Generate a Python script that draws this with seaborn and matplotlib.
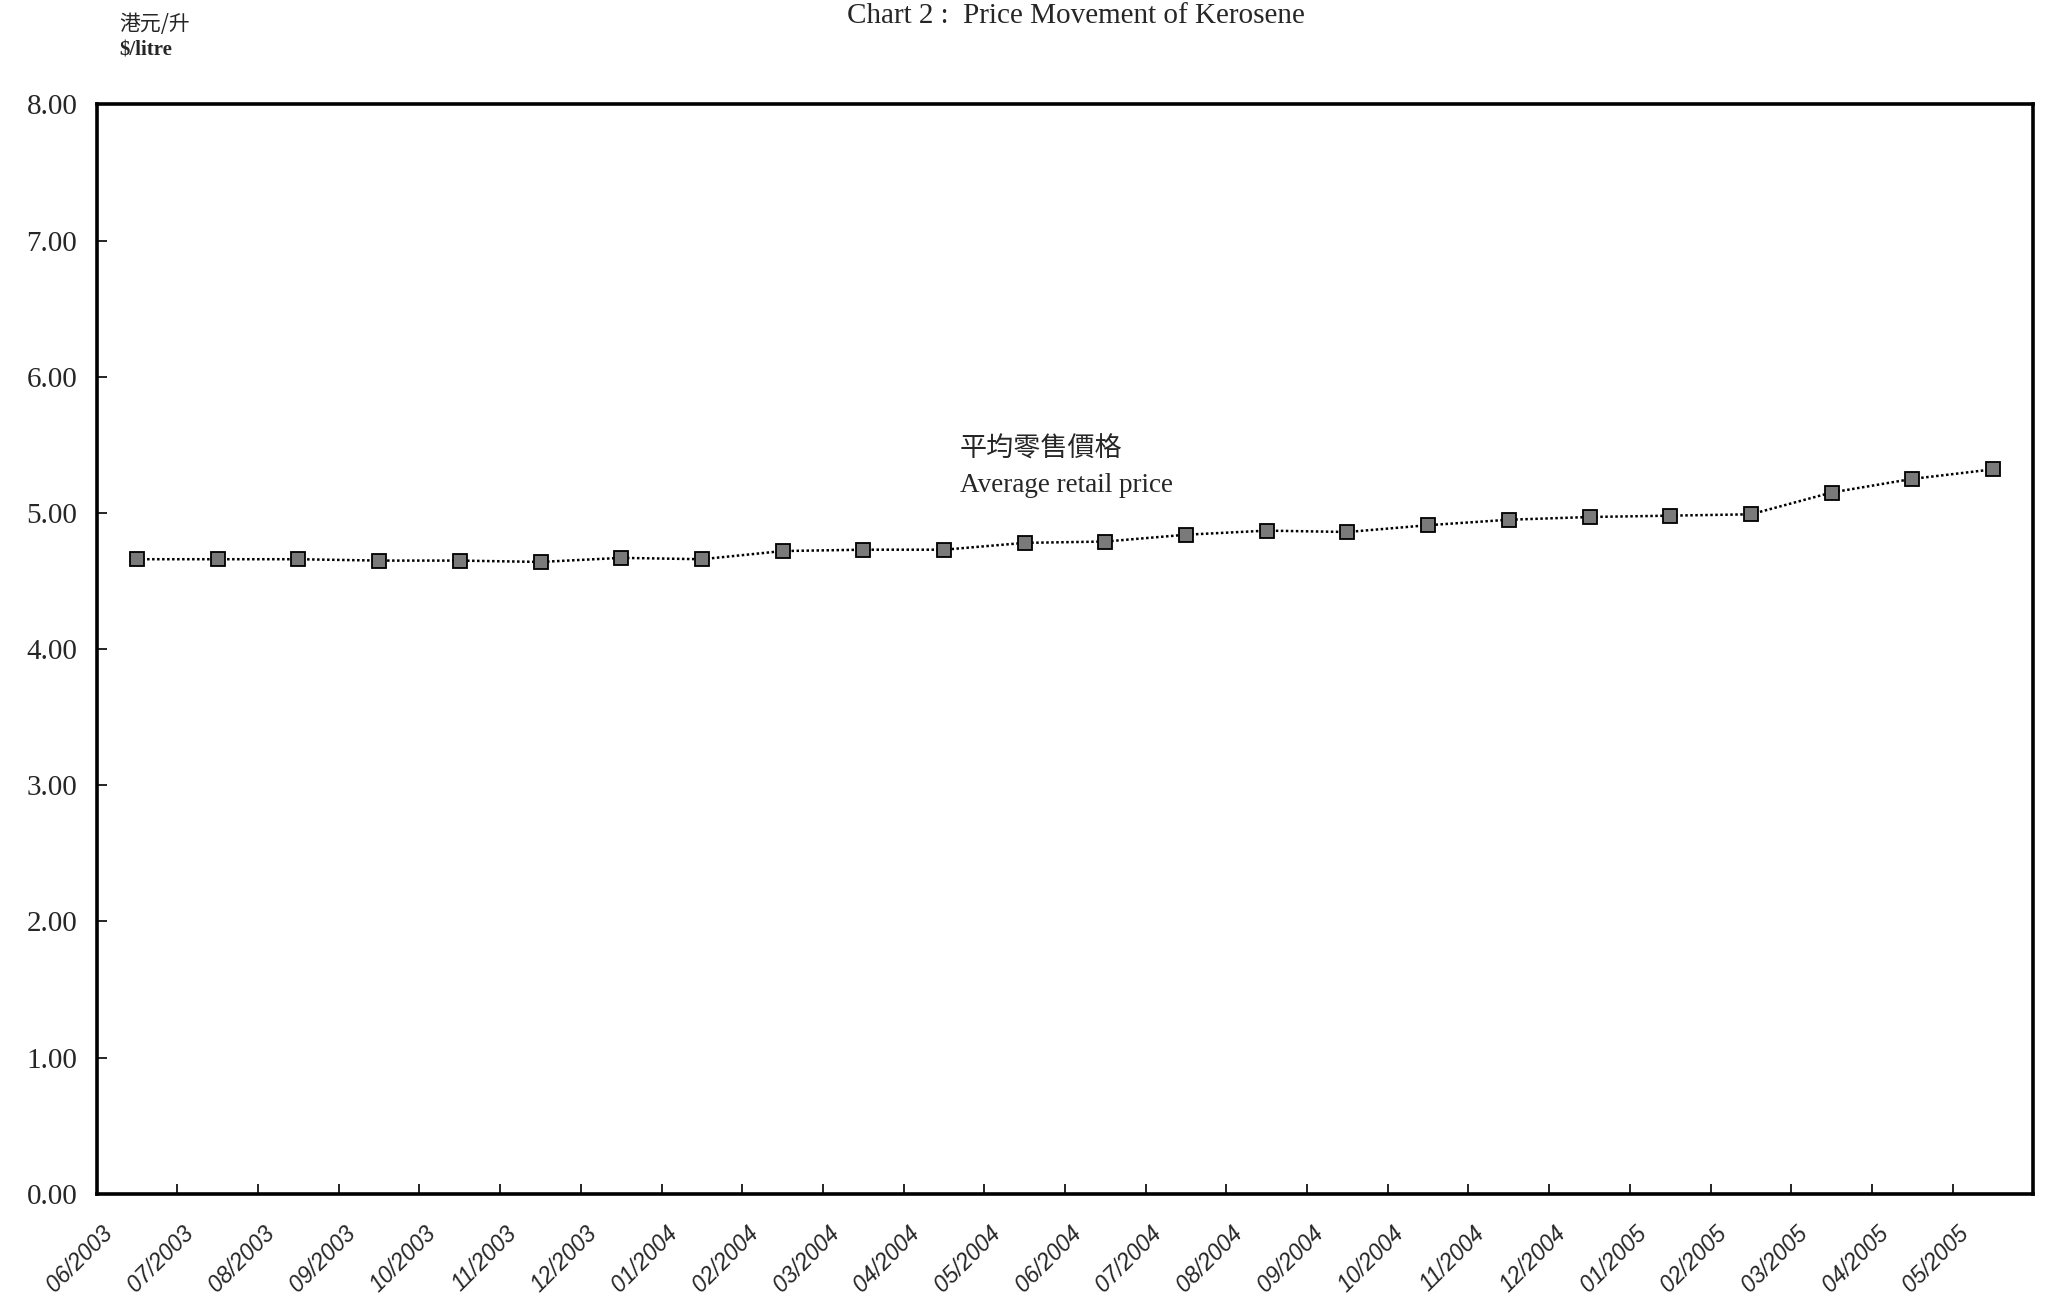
import matplotlib
matplotlib.use("Agg")
import matplotlib.pyplot as plt
from matplotlib import font_manager as fm
from matplotlib.ticker import FixedLocator, FormatStrFormatter
from matplotlib.transforms import ScaledTranslation
import seaborn as sns
import pandas as pd

# months on the x axis
months = ["06/2003", "07/2003", "08/2003", "09/2003", "10/2003", "11/2003",
          "12/2003", "01/2004", "02/2004", "03/2004", "04/2004", "05/2004",
          "06/2004", "07/2004", "08/2004", "09/2004", "10/2004", "11/2004",
          "12/2004", "01/2005", "02/2005", "03/2005", "04/2005", "05/2005"]

# average retail price of kerosene, HK$/litre
price = [4.66, 4.66, 4.66, 4.65, 4.65, 4.64, 4.67, 4.66, 4.72, 4.73, 4.73, 4.78,
         4.79, 4.84, 4.87, 4.86, 4.91, 4.95, 4.97, 4.98, 4.99, 5.15, 5.25, 5.32]

y_ticks = [0, 1, 2, 3, 4, 5, 6, 7, 8]

df = pd.DataFrame({"pos": range(len(months)), "price": price})

sns.set_style("white")
serif = ["Liberation Serif", "DejaVu Serif"]
cjk = ["Noto Sans CJK TC", "DejaVu Sans"]
names = {f.name for f in fm.fontManager.ttflist}
xfont = "Liberation Sans Narrow" if "Liberation Sans Narrow" in names else "Liberation Sans"

fig = plt.figure(figsize=(20.58, 13.06), dpi=100)
ax = fig.add_axes([0.047, 0.086, 0.941, 0.834])

sns.lineplot(data=df, x="pos", y="price", ax=ax, color="black",
             linewidth=1.8, linestyle=(0, (1, 1)), marker="s", markersize=9.5,
             markerfacecolor="#7a7a7a", markeredgecolor="black",
             markeredgewidth=1.3)

ax.set_xlim(-0.5, len(months) - 0.5)
ax.set_ylim(0, 8)
ax.set_xlabel("")
ax.set_ylabel("")

# labels at month centres, small inward ticks on the boundaries
ax.set_xticks(range(len(months)))
ax.set_xticklabels(months, rotation=45, ha="right", rotation_mode="default",
                   fontsize=16.5, family=xfont, style="italic")
ax.tick_params(axis="x", which="major", length=0, pad=20)
shift = ScaledTranslation(-14 / 72, 0, fig.dpi_scale_trans)
for lab in ax.get_xticklabels():
    lab.set_transform(lab.get_transform() + shift)
ax.xaxis.set_minor_locator(FixedLocator([i + 0.5 for i in range(len(months) - 1)]))
ax.tick_params(axis="x", which="minor", direction="in", length=7, width=1.2,
               color="black", bottom=True)

ax.set_yticks(y_ticks)
ax.yaxis.set_major_formatter(FormatStrFormatter("%.2f"))
ax.tick_params(axis="y", direction="in", length=7, width=1.2, pad=14,
               labelsize=21, color="black", left=True)
for lab in ax.get_yticklabels():
    lab.set_family(serif)

for sp in ax.spines.values():
    sp.set_visible(True)
    sp.set_color("black")
    sp.set_linewidth(2.6)

# series annotation inside the plot
ax.text(10.2, 5.47, "平均零售價格", fontsize=19.5, family=cjk, va="center", ha="left")
ax.text(10.2, 5.20, "Average retail price", fontsize=19.5, family=serif,
        va="center", ha="left")

fig.text(0.523, 0.988, "Chart 2 :  Price Movement of Kerosene", fontsize=21,
         family=serif, ha="center", va="center")
fig.text(0.058, 0.9816, "港元/升", fontsize=15, family=cjk, ha="left", va="center")
fig.text(0.058, 0.961, "$/litre", fontsize=15, family=serif, weight="bold",
         ha="left", va="center")

fig.savefig("out.png", dpi=100, facecolor="white")
